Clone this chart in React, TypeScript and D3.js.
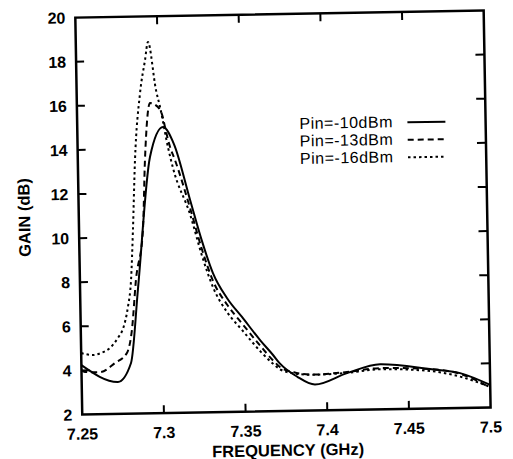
import React from 'react';
import * as d3 from 'd3';

// ---- data ----
const xTickValues = [7.25, 7.3, 7.35, 7.4, 7.45, 7.5];
const xTickLabels = ['7.25', '7.3', '7.35', '7.4', '7.45', '7.5'];
const yTickValues = [2, 4, 6, 8, 10, 12, 14, 16, 18, 20];
const seriesNames = ['Pin=-10dBm', 'Pin=-13dBm', 'Pin=-16dBm'];

const freq10 = [7.25, 7.2722, 7.2804, 7.2855, 7.2942, 7.3025, 7.309, 7.3183, 7.325, 7.3315, 7.34, 7.3488, 7.36, 7.3674, 7.3716, 7.3819, 7.3928, 7.4125, 7.4328, 7.4633, 7.4817, 7.5];
const gain10 = [4.24, 3.45, 4.3, 7.69, 13.62, 14.97, 14.19, 11.64, 9.8, 8.31, 7.15, 6.3, 5.2, 4.55, 4.15, 3.55, 3.18, 3.67, 4.05, 3.79, 3.58, 3.02];

const freq13 = [7.25, 7.2521, 7.2613, 7.2706, 7.278, 7.2813, 7.2843, 7.2891, 7.2911, 7.2948, 7.2996, 7.3026, 7.3037, 7.3066, 7.3095, 7.3183, 7.325, 7.3315, 7.34, 7.3488, 7.36, 7.3674, 7.3715, 7.38, 7.3917, 7.4125, 7.4327, 7.4633, 7.4817, 7.5];
const gain13 = [4.0, 3.93, 3.91, 4.31, 4.76, 5.79, 8.06, 10.31, 13.49, 16.07, 15.88, 15.38, 14.97, 14.06, 13.46, 11.25, 9.4, 7.95, 6.85, 6.0, 4.95, 4.3, 4.0, 3.75, 3.63, 3.72, 3.87, 3.79, 3.55, 2.9];

const freq16 = [7.25, 7.2572, 7.2622, 7.2677, 7.2727, 7.2758, 7.2791, 7.2813, 7.283, 7.285, 7.2888, 7.2922, 7.2942, 7.2986, 7.3009, 7.3053, 7.3082, 7.3183, 7.325, 7.3315, 7.34, 7.3488, 7.36, 7.3674, 7.3715, 7.38, 7.3917, 7.4125, 7.4327, 7.4633, 7.4817, 7.5];
const gain16 = [4.79, 4.69, 4.78, 5.0, 5.45, 5.85, 6.84, 8.06, 10.33, 13.5, 16.53, 18.02, 18.84, 16.65, 15.88, 14.06, 13.1, 10.95, 9.1, 7.65, 6.5, 5.7, 4.7, 4.15, 3.9, 3.7, 3.62, 3.68, 3.82, 3.7, 3.42, 2.93];

const seriesFreq = [freq10, freq13, freq16];
const seriesGain = [gain10, gain13, gain16];
const seriesDash = ['none', '6 4', '2.5 3'];

const W = 513;
const H = 459;
const FONT = '"Liberation Sans", Arial, Helvetica, sans-serif';

export default function App() {
  const x = d3.scaleLinear().domain([7.25, 7.5]).range([78.8, 487.2]);
  const y = d3.scaleLinear().domain([2, 20]).range([411, 14]);
  const line = d3
    .line<[number, number]>()
    .x((d) => x(d[0]))
    .y((d) => y(d[1]))
    .curve(d3.curveMonotoneX);

  const x0 = x(7.25), x1 = x(7.5), y0 = y(2), y1 = y(20);
  const innerX = xTickValues.filter((v) => v > 7.25 && v < 7.5);
  const innerY = yTickValues.filter((v) => v > 2 && v < 20);

  const legendX = 301;
  const legendY = [123.5, 141, 158.5];

  return (
    <svg width={W} height={H} style={{ position: 'absolute', left: 0, top: 0, background: '#fff' }}>
      <rect x={0} y={0} width={W} height={H} fill="#fff" />
      <g transform="rotate(-1, 285, 215)" fontFamily={FONT} fill="#000">
        {/* curves */}
        {seriesFreq.map((fr, i) => (
          <path
            key={i}
            d={line(fr.map((f, j) => [f, seriesGain[i][j]] as [number, number])) || ''}
            fill="none"
            stroke="#000"
            strokeWidth={2}
            strokeDasharray={seriesDash[i]}
            strokeLinejoin="round"
          />
        ))}

        {/* frame */}
        <rect x={x0} y={y1} width={x1 - x0} height={y0 - y1} fill="none" stroke="#000" strokeWidth={2.5} />

        {/* ticks */}
        {innerX.map((v) => (
          <g key={'xt' + v}>
            <line x1={x(v)} x2={x(v)} y1={y0} y2={y0 - 8} stroke="#000" strokeWidth={2} />
            <line x1={x(v)} x2={x(v)} y1={y1} y2={y1 + 8} stroke="#000" strokeWidth={2} />
          </g>
        ))}
        {innerY.map((v) => (
          <g key={'yt' + v}>
            <line x1={x0} x2={x0 + 8} y1={y(v)} y2={y(v)} stroke="#000" strokeWidth={2} />
            <line x1={x1} x2={x1 - 9} y1={y(v)} y2={y(v)} stroke="#000" strokeWidth={2} />
          </g>
        ))}

        {/* tick labels */}
        {xTickValues.map((v, i) => (
          <text key={'xl' + v} x={x(v)} y={y0 + 25} textAnchor="middle" fontSize={16} fontWeight="bold">
            {xTickLabels[i]}
          </text>
        ))}
        {yTickValues.map((v) => (
          <text key={'yl' + v} x={x0 - 10} y={y(v)} dy="0.36em" textAnchor="end" fontSize={16} fontWeight="bold">
            {v}
          </text>
        ))}

        {/* axis titles */}
        <text x={284} y={456} textAnchor="middle" fontSize={16.5} fontWeight="bold">
          FREQUENCY (GHz)
        </text>
        <text
          transform="translate(24, 213) rotate(-90)"
          textAnchor="middle"
          dy="0.36em"
          fontSize={16.5}
          fontWeight="bold"
        >
          GAIN (dB)
        </text>

        {/* legend */}
        {seriesNames.map((name, i) => (
          <g key={name}>
            <text x={legendX} y={legendY[i]} dy="0.36em" fontSize={16} letterSpacing={0.5}>
              {name}
            </text>
            <line
              x1={409}
              x2={447}
              y1={legendY[i] + 1}
              y2={legendY[i] + 1}
              stroke="#000"
              strokeWidth={2}
              strokeDasharray={seriesDash[i]}
            />
          </g>
        ))}
      </g>
    </svg>
  );
}
